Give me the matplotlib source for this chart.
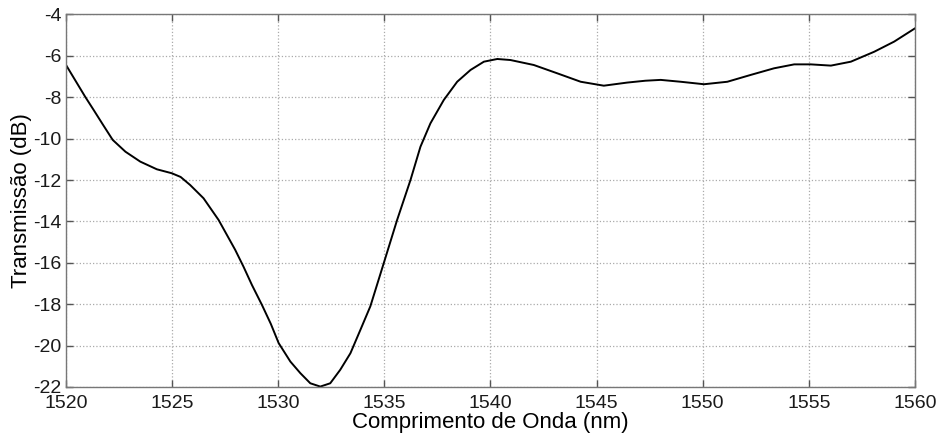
import matplotlib
matplotlib.use("Agg")
import matplotlib.pyplot as plt

# Wavelength (nm) and transmission (dB)
wavelength = [1520.0, 1520.9, 1521.3, 1521.75, 1522.2, 1522.8, 1523.5, 1524.28, 1524.98,
              1525.4, 1525.85, 1526.48, 1527.19, 1527.58, 1527.97, 1528.36, 1528.76, 1529.23,
              1529.65, 1530.02, 1530.57, 1531.04, 1531.51, 1531.98, 1532.45, 1532.92, 1533.4,
              1533.87, 1534.34, 1534.97, 1535.6, 1536.23, 1536.7, 1537.17, 1537.8, 1538.43,
              1539.06, 1539.69, 1540.32, 1540.94, 1542.04, 1543.14, 1544.25, 1545.34, 1546.44,
              1547.3, 1548.02, 1548.96, 1550.06, 1551.16, 1552.26, 1553.36, 1554.31, 1555.09,
              1556.04, 1556.98, 1558.08, 1559.02, 1560.0]
transmission = [-6.44, -7.97, -8.61, -9.34, -10.06, -10.63, -11.11, -11.48, -11.67,
                -11.85, -12.24, -12.88, -13.93, -14.65, -15.37, -16.18, -17.07, -18.03,
                -18.95, -19.88, -20.77, -21.33, -21.82, -21.98, -21.82, -21.17, -20.37,
                -19.24, -18.1, -16.02, -13.93, -12.0, -10.39, -9.26, -8.13, -7.25,
                -6.68, -6.28, -6.15, -6.2, -6.44, -6.84, -7.25, -7.44, -7.29,
                -7.2, -7.16, -7.25, -7.37, -7.25, -6.92, -6.6, -6.41, -6.41,
                -6.47, -6.28, -5.8, -5.31, -4.67]

xticks = [1520, 1525, 1530, 1535, 1540, 1545, 1550, 1555, 1560]
yticks = [-22, -20, -18, -16, -14, -12, -10, -8, -6, -4]

plt.rcParams['font.family'] = ['Liberation Sans', 'DejaVu Sans']
plt.rcParams['axes.unicode_minus'] = False

fig = plt.figure(figsize=(9.39, 4.34), dpi=100)
ax = fig.add_axes([0.0703, 0.1083, 0.9041, 0.8583])

ax.plot(wavelength, transmission, color='black', linewidth=1.4,
        solid_joinstyle='round')

ax.set_xlim(1520, 1560)
ax.set_ylim(-22, -4)
ax.set_xticks(xticks)
ax.set_yticks(yticks)
ax.tick_params(direction='in', top=True, right=True, length=5, width=1,
               color='#555555', labelsize=14, labelcolor='#1a1a1a')
ax.tick_params(axis='x', pad=6)
ax.tick_params(axis='y', pad=3)
for s in ax.spines.values():
    s.set_color('#777777')
    s.set_linewidth(1)

ax.grid(True, linestyle=':', color='#aaaaaa', linewidth=0.9)

ax.set_xlabel('Comprimento de Onda (nm)', fontsize=16, labelpad=0)
ax.set_ylabel('Transmissão (dB)', fontsize=16, labelpad=1)

fig.savefig('out.png', dpi=100)
